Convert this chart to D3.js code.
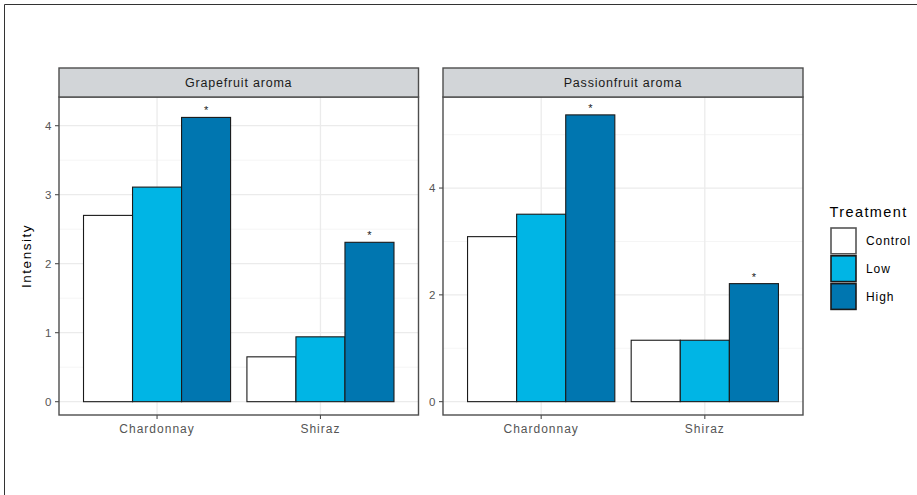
<!DOCTYPE html>
<html lang="en">
<head>
<meta charset="UTF-8">
<title>Aroma intensity</title>
<script src="https://d3js.org/d3.v7.min.js"></script>
<style>
    * { margin: 0; padding: 0; box-sizing: border-box; }
    body { background: #fff; font-family: "Liberation Sans", Arial, sans-serif; }
    svg text { font-family: "Liberation Sans", Arial, sans-serif; }
</style>
</head>
<body>
<div id="chart"></div>
<script>
// data
const facets = ["Grapefruit aroma", "Passionfruit aroma"];
const wines = ["Chardonnay", "Shiraz"];
const treatments = ["Control", "Low", "High"];
const grapefruitValues = [[2.70, 3.11, 4.12], [0.65, 0.94, 2.31]];
const passionfruitValues = [[3.09, 3.51, 5.37], [1.15, 1.15, 2.21]];
const starred = [[false, false, true], [false, false, true]];
const yTicks = [[0, 1, 2, 3, 4], [0, 2, 4]];
const yLimits = [[-0.193, 4.416], [-0.25, 5.705]];
const colors = ["#ffffff", "#00b5e5", "#0076b0"];

const width = 917, height = 495;
const svg = d3.select("#chart").append("svg")
    .attr("width", width)
    .attr("height", height);

// outer frame (top + left edge)
svg.append("line").attr("x1", 4.5).attr("x2", width).attr("y1", 4.5).attr("y2", 4.5)
    .attr("stroke", "#333").attr("stroke-width", 1);
svg.append("line").attr("x1", 4.5).attr("x2", 4.5).attr("y1", 4.5).attr("y2", height)
    .attr("stroke", "#333").attr("stroke-width", 1);

const stripTop = 68, plotTop = 97, plotBottom = 415;
const panels = [{ x0: 59, x1: 418.5 }, { x0: 443, x1: 803 }];
const allValues = [grapefruitValues, passionfruitValues];

const color = d3.scaleOrdinal().domain(treatments).range(colors);

facets.forEach((name, fi) => {
    const p = panels[fi];
    const g = svg.append("g");

    const x = d3.scaleBand().domain(wines).range([p.x0, p.x1])
        .paddingInner(0.1).paddingOuter(0.15);
    const xInner = d3.scaleBand().domain(treatments).range([0, x.bandwidth()]);
    const y = d3.scaleLinear().domain(yLimits[fi]).range([plotBottom, plotTop]);

    // minor grid
    const major = yTicks[fi];
    const step = major[1] - major[0];
    const minor = d3.range(major[0] - step / 2, yLimits[fi][1], step)
        .filter(v => v > yLimits[fi][0] && !major.includes(v));
    g.selectAll(".minor").data(minor).enter().append("line")
        .attr("x1", p.x0).attr("x2", p.x1)
        .attr("y1", d => y(d)).attr("y2", d => y(d))
        .attr("stroke", "#f2f2f2").attr("stroke-width", 0.8);
    // major grid
    g.selectAll(".major").data(major).enter().append("line")
        .attr("x1", p.x0).attr("x2", p.x1)
        .attr("y1", d => y(d)).attr("y2", d => y(d))
        .attr("stroke", "#ebebeb").attr("stroke-width", 1.3);
    g.selectAll(".vmajor").data(wines).enter().append("line")
        .attr("x1", d => x(d) + x.bandwidth() / 2).attr("x2", d => x(d) + x.bandwidth() / 2)
        .attr("y1", plotTop).attr("y2", plotBottom)
        .attr("stroke", "#ebebeb").attr("stroke-width", 1.3);

    // bars
    const rows = [];
    wines.forEach((w, wi) => treatments.forEach((t, ti) => {
        rows.push({ wine: w, treatment: t, value: allValues[fi][wi][ti], star: starred[wi][ti] });
    }));
    g.selectAll(".bar").data(rows).enter().append("rect")
        .attr("x", d => x(d.wine) + xInner(d.treatment))
        .attr("y", d => y(d.value))
        .attr("width", xInner.bandwidth())
        .attr("height", d => y(0) - y(d.value))
        .attr("fill", d => color(d.treatment))
        .attr("stroke", "#1a1a1a")
        .attr("stroke-width", 1.1);

    g.selectAll(".star").data(rows.filter(d => d.star)).enter().append("text")
        .attr("x", d => x(d.wine) + xInner(d.treatment) + xInner.bandwidth() / 2)
        .attr("y", d => y(d.value) - 3)
        .attr("text-anchor", "middle")
        .attr("font-size", "11px")
        .attr("fill", "#1a1a1a")
        .text("*");

    // panel border
    g.append("rect").attr("x", p.x0).attr("y", plotTop)
        .attr("width", p.x1 - p.x0).attr("height", plotBottom - plotTop)
        .attr("fill", "none").attr("stroke", "#4d4d4d").attr("stroke-width", 1.4);

    // strip
    g.append("rect").attr("x", p.x0).attr("y", stripTop)
        .attr("width", p.x1 - p.x0).attr("height", plotTop - stripTop)
        .attr("fill", "#d2d5d8").attr("stroke", "#4d4d4d").attr("stroke-width", 1.4);
    g.append("text")
        .attr("x", (p.x0 + p.x1) / 2).attr("y", stripTop + 19)
        .attr("text-anchor", "middle")
        .attr("font-size", "12.5px")
        .attr("letter-spacing", "0.8px")
        .attr("fill", "#1a1a1a")
        .text(name);

    // y axis
    const yAxis = g.append("g");
    yAxis.selectAll("line").data(major).enter().append("line")
        .attr("x1", p.x0 - 4).attr("x2", p.x0)
        .attr("y1", d => y(d)).attr("y2", d => y(d))
        .attr("stroke", "#4d4d4d").attr("stroke-width", 1.1);
    yAxis.selectAll("text").data(major).enter().append("text")
        .attr("x", p.x0 - 7.5).attr("y", d => y(d) + 4)
        .attr("text-anchor", "end")
        .attr("font-size", "11.5px")
        .attr("fill", "#555")
        .text(d => d);

    // x axis
    const xAxis = g.append("g");
    xAxis.selectAll("line").data(wines).enter().append("line")
        .attr("x1", d => x(d) + x.bandwidth() / 2).attr("x2", d => x(d) + x.bandwidth() / 2)
        .attr("y1", plotBottom).attr("y2", plotBottom + 4)
        .attr("stroke", "#4d4d4d").attr("stroke-width", 1.1);
    xAxis.selectAll("text").data(wines).enter().append("text")
        .attr("x", d => x(d) + x.bandwidth() / 2).attr("y", plotBottom + 18)
        .attr("text-anchor", "middle")
        .attr("font-size", "12px")
        .attr("letter-spacing", "1px")
        .attr("fill", "#555")
        .text(d => d);
});

// y title
svg.append("text")
    .attr("transform", `translate(31,${(plotTop + plotBottom) / 2}) rotate(-90)`)
    .attr("text-anchor", "middle")
    .attr("font-size", "13.5px")
    .attr("letter-spacing", "1.5px")
    .attr("fill", "#000")
    .text("Intensity");

// legend
const legend = svg.append("g").attr("transform", "translate(830,227)");
legend.append("text")
    .attr("x", -0.5).attr("y", -10.5)
    .attr("font-size", "14.5px")
    .attr("letter-spacing", "1.4px")
    .attr("fill", "#000")
    .text("Treatment");
const keySize = 27.8;
treatments.forEach((t, i) => {
    legend.append("rect")
        .attr("x", 1).attr("y", i * keySize + 1)
        .attr("width", 25).attr("height", keySize - 2)
        .attr("fill", color(t))
        .attr("stroke", t === "Control" ? "#555" : "#1a1a1a")
        .attr("stroke-width", 1.6);
    legend.append("text")
        .attr("x", 36).attr("y", i * keySize + keySize / 2 + 4.5)
        .attr("font-size", "12px")
        .attr("letter-spacing", "0.9px")
        .attr("fill", "#000")
        .text(t);
});
</script>
</body>
</html>
